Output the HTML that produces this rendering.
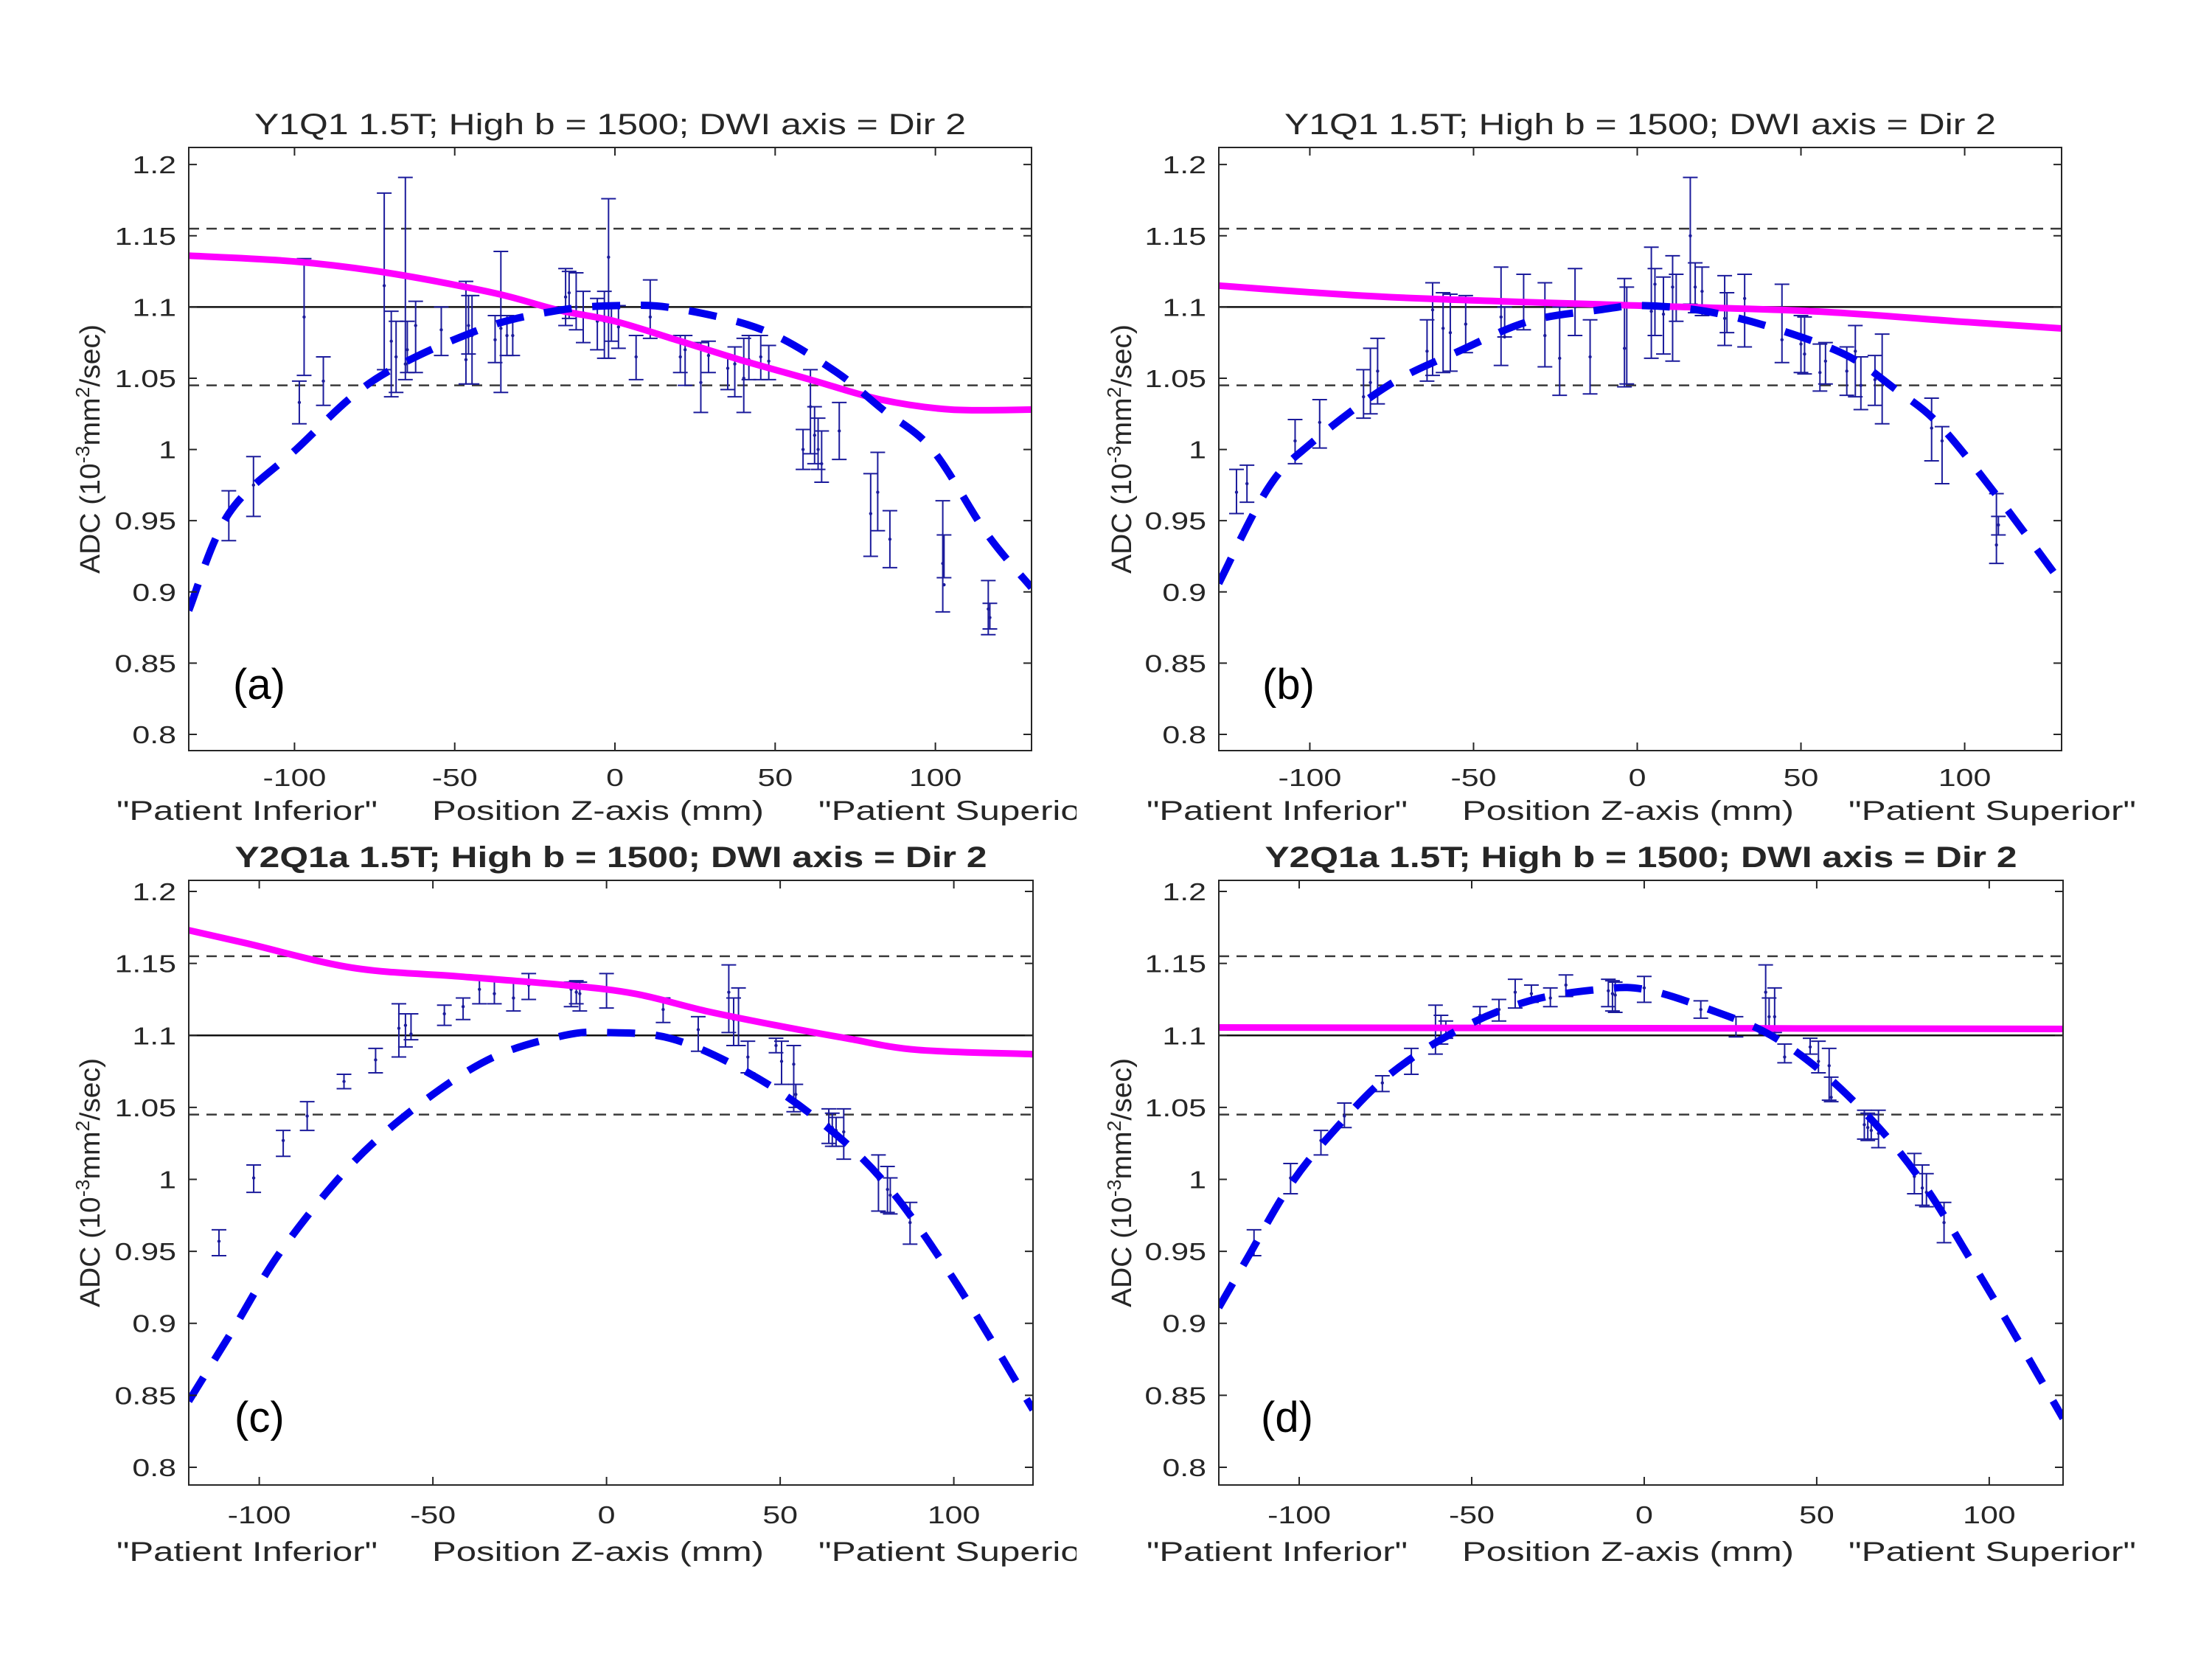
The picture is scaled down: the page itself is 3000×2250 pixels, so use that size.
<!DOCTYPE html>
<html><head><meta charset="utf-8"><style>
html,body{margin:0;padding:0;background:#fff;}
svg{display:block;}
text{font-family:"Liberation Sans",Arial,sans-serif;fill:#262626;}
</style></head>
<body>
<svg id="fig" xmlns="http://www.w3.org/2000/svg" width="3000" height="2250" viewBox="0 0 3000 2250">
<rect width="3000" height="2250" fill="#fff"/>
<defs>
<clipPath id="leftHalf"><rect x="0" y="0" width="1460" height="2250"/></clipPath>
</defs>
</svg>
<script>
// ---------- Panel (a) data ----------
const aPos  = [-120.5,-112.8,-98.5,-97,-91,-72,-69.8,-68.3,-65.4,-64.8,-62.2,-54.2,-46.5,-45.7,-44.6,-37.4,-35.6,-33.7,-31.9,-15.4,-14.3,-12.1,-9.9,-5.5,-3.3,-2,-1.1,1.1,11,6.6,20.4,21.9,26.8,29.2,35.2,37.4,40.2,41.8,45.5,48,58.7,61,62.3,63.4,64.5,70,79.8,82,85.8,102.3,102.7,116.5,117];
const aMean = [0.953,0.975,1.033,1.093,1.048,1.115,1.076,1.065,1.06,1.07,1.087,1.084,1.063,1.087,1.08,1.077,1.085,1.08,1.08,1.107,1.11,1.1,1.096,1.09,1.09,1.135,1.09,1.086,1.093,1.065,1.065,1.07,1.047,1.066,1.057,1.06,1.05,1.063,1.065,1.062,1.0,1.03,1.01,1.0,0.99,1.013,0.955,0.97,0.937,0.92,0.905,0.888,0.882];
const aHi   = [0.971,0.995,1.048,1.134,1.065,1.18,1.097,1.09,1.191,1.09,1.104,1.1,1.118,1.108,1.108,1.094,1.139,1.094,1.092,1.127,1.125,1.124,1.111,1.106,1.111,1.176,1.1,1.101,1.119,1.08,1.08,1.08,1.075,1.076,1.066,1.072,1.078,1.08,1.08,1.073,1.014,1.056,1.03,1.022,1.013,1.033,0.983,0.998,0.957,0.964,0.94,0.908,0.892];
const aLo   = [0.936,0.953,1.018,1.052,1.031,1.056,1.037,1.04,1.049,1.054,1.054,1.066,1.046,1.067,1.046,1.061,1.04,1.066,1.066,1.087,1.092,1.084,1.075,1.07,1.064,1.064,1.076,1.071,1.078,1.049,1.054,1.045,1.026,1.054,1.042,1.037,1.026,1.049,1.049,1.049,0.986,0.997,0.99,0.986,0.977,0.993,0.925,0.943,0.917,0.886,0.91,0.87,0.874];
const aBlueX = [-133,-120.5,-99.5,-75,-42.4,-18,1.6,19,46,68,83.6,99,116,130];
const aBlueY = [0.887,0.955,1.0,1.049,1.084,1.0975,1.101,1.099,1.084,1.056,1.028,1.0,0.941,0.903];
const aMagX = [-133,-100,-71,-38,-18,0,19,39,61,83,105,130];
const aMagY = [1.136,1.132,1.124,1.11,1.098,1.09,1.077,1.063,1.049,1.035,1.028,1.028];

// ---------- Panel (b) data ----------
const bPos  = [-122.4,-119.2,-104.5,-97,-83.6,-81.5,-79.3,-64.2,-62.5,-59.3,-57.1,-52.4,-41.6,-40.5,-34.7,-28.2,-23.7,-19,-14.4,-3.9,-3.2,4.3,5.4,8,10.8,11.9,16.2,17.7,19.8,26.7,27.4,32.8,44.2,50,51.1,55.8,57.5,64,66.6,68.3,72.6,74.8,89.9,93.1,109.7,110.3];
const bMean = [0.970,0.976,1.006,1.019,1.037,1.047,1.055,1.069,1.098,1.085,1.082,1.088,1.093,1.079,1.102,1.08,1.064,1.1,1.065,1.071,1.102,1.097,1.116,1.095,1.114,1.1,1.15,1.114,1.111,1.092,1.1,1.106,1.077,1.074,1.067,1.054,1.062,1.055,1.069,1.045,1.049,1.049,1.015,1.006,0.933,0.947];
const bHi   = [0.986,0.989,1.021,1.035,1.056,1.071,1.078,1.091,1.117,1.11,1.109,1.108,1.128,1.1,1.123,1.117,1.1,1.127,1.091,1.12,1.114,1.142,1.127,1.121,1.136,1.123,1.191,1.131,1.128,1.122,1.11,1.123,1.116,1.094,1.093,1.074,1.075,1.072,1.087,1.065,1.066,1.081,1.036,1.016,0.969,0.953];
const bLo   = [0.955,0.963,0.99,1.001,1.022,1.025,1.032,1.048,1.052,1.054,1.055,1.068,1.059,1.079,1.084,1.058,1.038,1.08,1.039,1.044,1.046,1.064,1.08,1.067,1.062,1.09,1.102,1.096,1.094,1.073,1.082,1.072,1.061,1.054,1.053,1.041,1.046,1.038,1.037,1.028,1.031,1.018,0.992,0.976,0.92,0.94];
const bBlueX = [-127.8,-112.7,-99.8,-76,-54.5,-33,-11.4,1.5,21,42,64,79,92,109,128.7];
const bBlueY = [0.906,0.973,1.004,1.045,1.069,1.09,1.098,1.101,1.097,1.085,1.066,1.042,1.018,0.97,0.909];
const bMagX = [-127.8,-76,0,54,97,129.6];
const bMagY = [1.115,1.107,1.101,1.097,1.09,1.085];

// ---------- Panel (c) data ----------
const cPos  = [-111.6,-101.6,-93.1,-86.2,-75.6,-66.5,-59.8,-57.9,-56.3,-46.7,-41.3,-36.6,-32.3,-26.8,-22.4,-10.2,-8.7,-7.7,0,16.3,26.4,35.2,36.6,38,40.7,48.8,50.4,53.9,54.5,64,65,66.1,68.3,78.3,80.9,81.7,87.4];
const cMean = [0.957,1.001,1.027,1.044,1.068,1.083,1.105,1.107,1.101,1.115,1.12,1.132,1.129,1.126,1.135,1.132,1.13,1.129,1.132,1.118,1.104,1.13,1.111,1.113,1.085,1.093,1.082,1.08,1.059,1.038,1.036,1.034,1.033,1.0,0.993,0.989,0.97];
const cHi   = [0.965,1.01,1.034,1.054,1.073,1.091,1.122,1.115,1.115,1.121,1.126,1.141,1.139,1.138,1.143,1.137,1.138,1.137,1.143,1.126,1.113,1.149,1.126,1.133,1.096,1.098,1.096,1.093,1.066,1.049,1.046,1.043,1.049,1.017,1.009,1.001,0.984];
const cLo   = [0.947,0.991,1.016,1.034,1.063,1.074,1.085,1.092,1.097,1.107,1.111,1.122,1.122,1.117,1.125,1.12,1.122,1.117,1.119,1.109,1.089,1.102,1.093,1.093,1.074,1.088,1.066,1.047,1.05,1.025,1.023,1.023,1.014,0.978,0.977,0.976,0.955];
const cBlueX = [-120.3,-107.7,-93.5,-73.2,-52.8,-32.5,-12.2,0,18.3,38.6,59,79.3,99.6,122.8];
const cBlueY = [0.846,0.895,0.951,1.011,1.054,1.085,1.1,1.102,1.098,1.077,1.045,1.0,0.932,0.84];
const cMagX = [-120.3,-103.7,-73.2,-42.7,-12.2,8.1,28.5,48.8,69.1,89.4,122.8];
const cMagY = [1.173,1.164,1.147,1.141,1.135,1.129,1.117,1.107,1.098,1.09,1.087];

// ---------- Panel (d) data ----------
const dPos  = [-113.1,-102.5,-93.7,-86.9,-75.9,-67.5,-60.5,-58.9,-57.5,-47.6,-42.1,-37.4,-32.7,-27.2,-22.7,-10.4,-9.2,-8.4,0,16.4,26.6,35.2,36.2,37.8,40.7,48.1,50.5,53.6,54.2,63.8,64.8,65.8,67.9,78.3,80.6,81.8,86.9];
const dMean = [0.956,1.001,1.027,1.044,1.067,1.082,1.105,1.105,1.105,1.114,1.118,1.13,1.129,1.126,1.135,1.131,1.129,1.128,1.133,1.118,1.104,1.13,1.113,1.113,1.085,1.092,1.082,1.079,1.057,1.038,1.036,1.034,1.032,1.002,0.994,0.991,0.97];
const dHi   = [0.965,1.011,1.034,1.053,1.072,1.091,1.121,1.114,1.11,1.12,1.125,1.139,1.135,1.133,1.142,1.139,1.138,1.137,1.141,1.124,1.113,1.149,1.126,1.133,1.094,1.098,1.096,1.091,1.071,1.048,1.046,1.045,1.048,1.018,1.01,1.004,0.984];
const dLo   = [0.947,0.99,1.017,1.036,1.061,1.073,1.087,1.094,1.098,1.104,1.11,1.119,1.123,1.12,1.127,1.12,1.117,1.116,1.123,1.112,1.099,1.101,1.102,1.102,1.081,1.087,1.074,1.055,1.054,1.028,1.027,1.028,1.022,0.99,0.982,0.981,0.956];
const dBlueX = [-123.3,-115.1,-102.9,-90.6,-74.2,-53.8,-33.3,-12.9,0,17.8,38.2,58.7,79.1,99.6,121.4];
const dBlueY = [0.911,0.945,0.995,1.032,1.072,1.104,1.124,1.132,1.132,1.119,1.098,1.059,1.003,0.924,0.834];
const dMagX = [-123.3,0,121.4];
const dMagY = [1.1055,1.105,1.1045];

// ---------- axis / reference settings ----------
const xTicks = [-100,-50,0,50,100];
const xTickLabels = ["-100","-50","0","50","100"];
const yTicks = [0.8,0.85,0.9,0.95,1.0,1.05,1.1,1.15,1.2];
const yTickLabels = ["0.8","0.85","0.9","0.95","1","1.05","1.1","1.15","1.2"];
const refSolid = [1.1];
const refDashed = [1.155,1.045];
const titles = ["Y1Q1 1.5T; High b = 1500; DWI axis = Dir 2","Y1Q1 1.5T; High b = 1500; DWI axis = Dir 2","Y2Q1a 1.5T; High b = 1500; DWI axis = Dir 2","Y2Q1a 1.5T; High b = 1500; DWI axis = Dir 2"];
const panelLetters = ["(a)","(b)","(c)","(d)"];

const NS = "http://www.w3.org/2000/svg";
const svg = document.getElementById("fig");
function mk(tag, attrs, parent){
  const e = document.createElementNS(NS, tag);
  for (const k in attrs) e.setAttribute(k, attrs[k]);
  (parent||svg).appendChild(e);
  return e;
}
function smoothPath(pts){
  let d = "M"+pts[0][0].toFixed(1)+","+pts[0][1].toFixed(1);
  for (let i=0;i<pts.length-1;i++){
    const p0=pts[Math.max(0,i-1)], p1=pts[i], p2=pts[i+1], p3=pts[Math.min(pts.length-1,i+2)];
    const c1=[p1[0]+(p2[0]-p0[0])/6, p1[1]+(p2[1]-p0[1])/6];
    const c2=[p2[0]-(p3[0]-p1[0])/6, p2[1]-(p3[1]-p1[1])/6];
    d += " C"+c1[0].toFixed(1)+","+c1[1].toFixed(1)+" "+c2[0].toFixed(1)+","+c2[1].toFixed(1)+" "+p2[0].toFixed(1)+","+p2[1].toFixed(1);
  }
  return d;
}

const panels = [
  {id:"a", L:256, R:1399, T:200, B:1018, xmin:-133, xmax:130, ymin:0.7886, ymax:1.212, bold:false, titleY:182, tickY:1066, labY:1112, ylabX:135, letterX:316, letterY:948, clip:true,
   pos:aPos, mean:aMean, hi:aHi, lo:aLo, bx:aBlueX, by:aBlueY, mx:aMagX, my:aMagY},
  {id:"b", L:1653, R:2796, T:200, B:1018, xmin:-127.8, xmax:129.6, ymin:0.7886, ymax:1.212, bold:false, titleY:182, tickY:1066, labY:1112, ylabX:1534, letterX:1712, letterY:948, clip:false,
   pos:bPos, mean:bMean, hi:bHi, lo:bLo, bx:bBlueX, by:bBlueY, mx:bMagX, my:bMagY},
  {id:"c", L:256, R:1401, T:1194, B:2014, xmin:-120.3, xmax:122.8, ymin:0.7877, ymax:1.2077, bold:true, titleY:1176, tickY:2066, labY:2117, ylabX:135, letterX:318, letterY:1942, clip:true,
   pos:cPos, mean:cMean, hi:cHi, lo:cLo, bx:cBlueX, by:cBlueY, mx:cMagX, my:cMagY},
  {id:"d", L:1653, R:2798, T:1194, B:2014, xmin:-123.3, xmax:121.4, ymin:0.7877, ymax:1.2077, bold:true, titleY:1176, tickY:2066, labY:2117, ylabX:1534, letterX:1710, letterY:1942, clip:false,
   pos:dPos, mean:dMean, hi:dHi, lo:dLo, bx:dBlueX, by:dBlueY, mx:dMagX, my:dMagY}
];

panels.forEach((p, pi) => {
  const X = v => p.L + (v - p.xmin) / (p.xmax - p.xmin) * (p.R - p.L);
  const Y = v => p.B - (v - p.ymin) / (p.ymax - p.ymin) * (p.B - p.T);
  const g = mk("g", {});
  
  
  const cp = mk("clipPath", {id:"plot-"+p.id}, svg.querySelector("defs"));
  mk("rect", {x:p.L, y:p.T, width:p.R-p.L, height:p.B-p.T}, cp);

  const t = mk("text", {x:(p.L+p.R)/2, y:p.titleY, "text-anchor":"middle", "font-size":40, "font-weight":p.bold?"bold":"normal", textLength:p.bold?1020:965, lengthAdjust:"spacingAndGlyphs"}, g);
  t.textContent = titles[pi];
  
  

  const refs = mk("g", {"clip-path":"url(#plot-"+p.id+")"}, g);
  
  
  refDashed.forEach(v => {
    const l = mk("line", {x1:p.L, x2:p.R, y1:Y(v), y2:Y(v), stroke:"#3a3a3a", "stroke-width":2.5, "stroke-dasharray":"14 10"}, refs);
    
    
  });
  refSolid.forEach(v => {
    const l = mk("line", {x1:p.L, x2:p.R, y1:Y(v), y2:Y(v), stroke:"#111", "stroke-width":2.5}, refs);
    
    
  });

  const eb = mk("g", {stroke:"#1c1c9c", "stroke-width":2, fill:"none"}, g);
  
  
  p.pos.forEach((xv, i) => {
    const x = X(xv), yh = Y(p.hi[i]), yl = Y(p.lo[i]), ym = Y(p.mean[i]);
    const bar = mk("path", {d:"M"+x+","+yh+" V"+yl+" M"+(x-10)+","+yh+" H"+(x+10)+" M"+(x-10)+","+yl+" H"+(x+10)}, eb);
    
    
    const dot = mk("circle", {cx:x, cy:ym, r:2.2, fill:"#1c1c9c", stroke:"none"}, eb);
    
    
  });

  const curves = mk("g", {"clip-path":"url(#plot-"+p.id+")"}, g);
  
  
  const mag = mk("path", {d:smoothPath(p.mx.map((v,i)=>[X(v),Y(p.my[i])])), stroke:"#ff00ff", "stroke-width":9, fill:"none"}, curves);
  
  
  const blue = mk("path", {d:smoothPath(p.bx.map((v,i)=>[X(v),Y(p.by[i])])), stroke:"#0000ee", "stroke-width":10, fill:"none", "stroke-dasharray":"38 28"}, curves);
  
  

  const box = mk("rect", {x:p.L, y:p.T, width:p.R-p.L, height:p.B-p.T, fill:"none", stroke:"#262626", "stroke-width":2}, g);
  
  

  const xt = mk("g", {}, g);
  
  
  xTicks.forEach((v, i) => {
    const x = X(v);
    mk("path", {d:"M"+x+","+p.B+" v-11 M"+x+","+p.T+" v11", stroke:"#262626", "stroke-width":2}, xt);
    const lab = mk("text", {"font-size":33, "text-anchor":"middle", transform:"translate("+x+","+p.tickY+") scale(1.3,1)"}, xt);
    lab.textContent = xTickLabels[i];
    
    
  });
  const yt = mk("g", {}, g);
  
  
  yTicks.forEach((v, i) => {
    const y = Y(v);
    mk("path", {d:"M"+p.L+","+y+" h11 M"+p.R+","+y+" h-11", stroke:"#262626", "stroke-width":2}, yt);
    const lab = mk("text", {"font-size":33, "text-anchor":"end", transform:"translate("+(p.L-17)+","+(y+12)+") scale(1.3,1)"}, yt);
    lab.textContent = yTickLabels[i];
    
    
  });

  const xl = mk("g", p.clip ? {"clip-path":"url(#leftHalf)"} : {}, g);
  
  
  const off = p.L - 256;
  [["\"Patient Inferior\"",158,354],["Position Z-axis (mm)",586,450],["\"Patient Superior\"",1110,390]].forEach(s => {
    const tx = mk("text", {x:s[1]+off, y:p.labY, "font-size":37, textLength:s[2], lengthAdjust:"spacingAndGlyphs"}, xl);
    tx.textContent = s[0];
    
    
  });

  const cy = (p.T + p.B) / 2;
  const yl = mk("text", {transform:"translate("+p.ylabX+","+cy+") rotate(-90)", "text-anchor":"middle", "font-size":38, textLength:338, lengthAdjust:"spacingAndGlyphs"}, g);
  yl.innerHTML = 'ADC (10<tspan dy="-14" font-size="26">-3</tspan><tspan dy="14">mm</tspan><tspan dy="-14" font-size="26">2</tspan><tspan dy="14">/sec)</tspan>';
  
  

  const pl = mk("text", {x:p.letterX, y:p.letterY, "font-size":58, style:"font-family:'Liberation Sans Narrow','Liberation Sans',sans-serif;fill:#000"}, g);
  pl.textContent = panelLetters[pi];
  
  
});
</script>
</body></html>
